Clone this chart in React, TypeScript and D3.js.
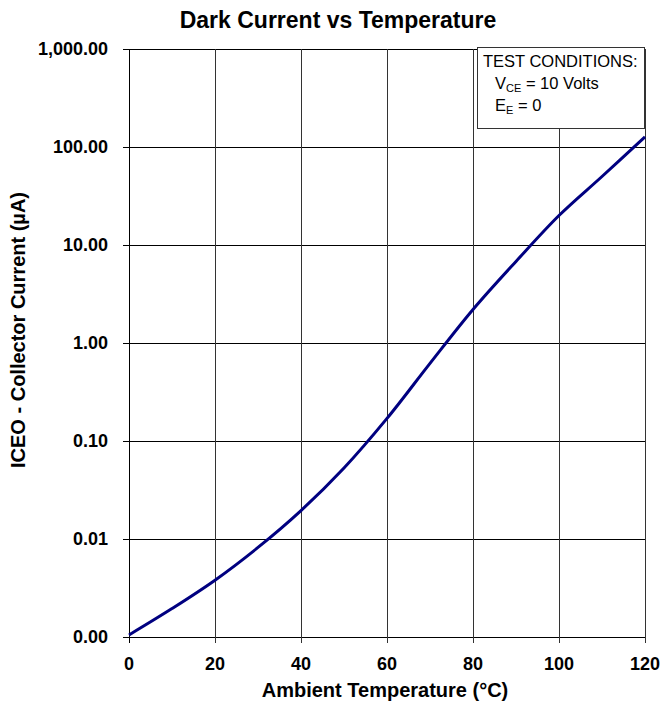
import React from 'react';
import * as d3 from 'd3';

const temps = [0, 10, 20, 30, 40, 50, 60, 70, 80, 90, 100, 110, 120];
const currentUA = [0.00105, 0.00195, 0.0038, 0.0082, 0.0195, 0.053, 0.17, 0.62, 2.2, 6.8, 20, 50, 127];
const xTicks = [0, 20, 40, 60, 80, 100, 120];
const yTicks = [0.001, 0.01, 0.1, 1, 10, 100, 1000];

const W = 661;
const H = 705;
const margin = { top: 49, right: 16, bottom: 68, left: 129 };

const App: React.FC = () => {
  const innerW = W - margin.left - margin.right;
  const innerH = H - margin.top - margin.bottom;

  const x = d3.scaleLinear().domain([0, 120]).range([0, innerW]);
  const y = d3.scaleLog().domain([0.001, 1000]).range([innerH, 0]);
  const fmt = d3.format(',.2f');

  // smooth curve through the read-off points
  const line = d3.line<number>()
    .x((d, i) => x(temps[i]))
    .y(d => y(d))
    .curve(d3.curveCatmullRom.alpha(0.5));

  const font = '"Liberation Sans", Arial, sans-serif';

  return (
    <svg width={W} height={H} style={{ position: 'absolute', left: 0, top: 0, background: '#fff' }} fontFamily={font}>
      <text x={338} y={28} textAnchor="middle" fontSize={23} fontWeight="bold">Dark Current vs Temperature</text>
      <g transform={`translate(${margin.left},${margin.top})`}>
        {/* grid */}
        {yTicks.map(t => (
          <line key={'gy' + t} x1={-6} x2={innerW} y1={Math.round(y(t)) + 0.5} y2={Math.round(y(t)) + 0.5} stroke="#000" strokeWidth={1} />
        ))}
        {xTicks.map(t => (
          <line key={'gx' + t} x1={Math.round(x(t)) + 0.5} x2={Math.round(x(t)) + 0.5} y1={0} y2={innerH + 6} stroke={t === 0 ? '#000' : '#333'} strokeWidth={1} />
        ))}
        {/* tick labels */}
        {yTicks.map(t => (
          <text key={'ly' + t} x={-21} y={y(t)} dy="0.36em" textAnchor="end" fontSize={18} fontWeight="bold">{fmt(t)}</text>
        ))}
        {xTicks.map(t => (
          <text key={'lx' + t} x={x(t)} y={innerH + 33} textAnchor="middle" fontSize={18} fontWeight="bold">{t}</text>
        ))}
        <path d={line(currentUA) || ''} fill="none" stroke="#000080" strokeWidth={3} />
        {/* test conditions box */}
        <rect x={348.5} y={-1.5} width={167} height={81} fill="#fff" stroke="#333" strokeWidth={1} />
        <text x={354} y={18} fontSize={16.5}>TEST CONDITIONS:</text>
        <text x={366} y={40} fontSize={16.5}>V<tspan fontSize={11} dy={3}>CE</tspan><tspan dy={-3}> = 10 Volts</tspan></text>
        <text x={366} y={62} fontSize={16.5}>E<tspan fontSize={11} dy={3}>E</tspan><tspan dy={-3}> = 0</tspan></text>
      </g>
      <text x={385} y={697} textAnchor="middle" fontSize={20} fontWeight="bold">Ambient Temperature (°C)</text>
      <text transform="translate(25,330) rotate(-90)" textAnchor="middle" fontSize={20} fontWeight="bold">ICEO - Collector Current (µA)</text>
    </svg>
  );
};

export default App;
